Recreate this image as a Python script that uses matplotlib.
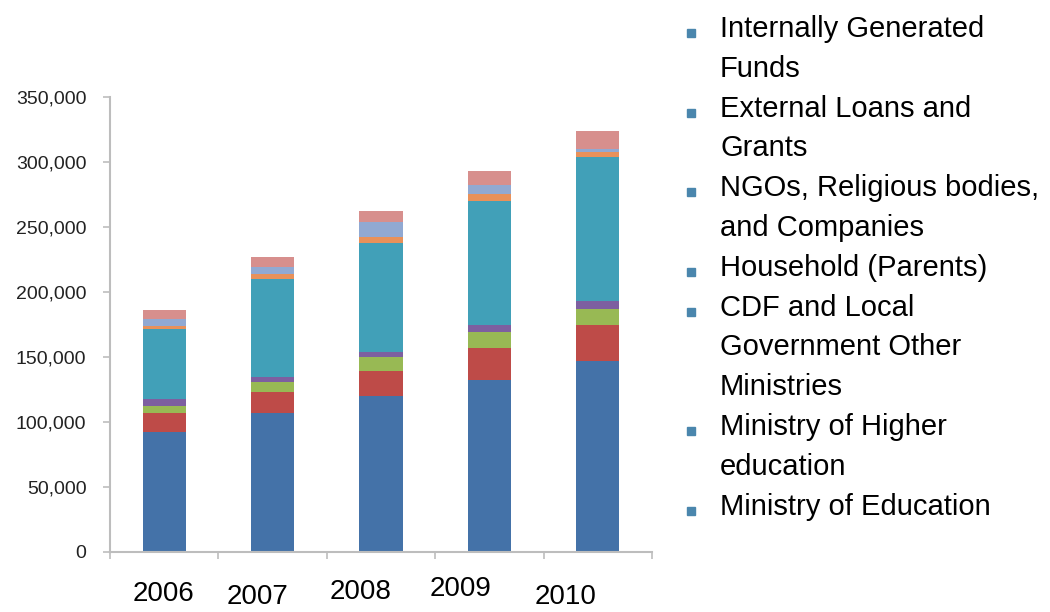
import matplotlib
matplotlib.use("Agg")
import matplotlib.pyplot as plt
import matplotlib.transforms as mtransforms
from matplotlib.patches import Rectangle
import numpy as np

plt.rcParams['font.family'] = ['Liberation Sans', 'DejaVu Sans']

# Daten
years = ['2006', '2007', '2008', '2009', '2010']

ministry_education = [92000, 107000, 120000, 132000, 147000]
ministry_higher = [15000, 16000, 19000, 25000, 28000]
cdf_local_gov = [5000, 8000, 11000, 12000, 12000]
household = [6000, 4000, 4000, 6000, 6000]
ngos = [53500, 75000, 84000, 95000, 111000]
external_loans = [2500, 4000, 4000, 5000, 4000]
internal_funds = [5000, 5000, 12000, 7000, 2000]
other = [7000, 8000, 8000, 11000, 14000]

yticks = [0, 50000, 100000, 150000, 200000, 250000, 300000, 350000]

legend_labels = [
    'Internally Generated\nFunds',
    'External Loans and\nGrants',
    'NGOs, Religious bodies,\nand Companies',
    'Household (Parents)',
    'CDF and Local\nGovernment Other\nMinistries',
    'Ministry of Higher\neducation',
    'Ministry of Education',
]

# Stapel von unten nach oben
series = [ministry_education, ministry_higher, cdf_local_gov, household,
          ngos, external_loans, internal_funds, other]
colors = ['#4472a8', '#be4b48', '#98b954', '#7d5fa0',
          '#41a0b8', '#e8915a', '#91a9d2', '#d78f8d']

fig = plt.figure(figsize=(10.5, 6.12), dpi=100)
ax = fig.add_axes([110 / 1050, 60 / 612, 542 / 1050, 455 / 612])

x = np.arange(len(years))
bottom = np.zeros(len(years))
for values, color in zip(series, colors):
    ax.bar(x, values, width=0.4, bottom=bottom, color=color, linewidth=0)
    bottom += np.array(values)

ax.set_xlim(-0.5, len(years) - 0.5)
ax.set_ylim(0, 350000)

# Achsen
for side in ['top', 'right']:
    ax.spines[side].set_visible(False)
for side in ['left', 'bottom']:
    ax.spines[side].set_color('#bdbdbd')
    ax.spines[side].set_linewidth(1.5)

ax.set_yticks(yticks)
ax.set_yticklabels([f'{v:,}' for v in yticks])
ax.tick_params(axis='y', length=5, width=1.2, color='#bdbdbd',
               labelsize=14, labelcolor='#222222', pad=12)

ax.set_xticks([])
ax.set_xticks(np.arange(len(years) + 1) - 0.5, minor=True)
ax.tick_params(axis='x', which='minor', length=5, width=1.2, color='#bdbdbd')

# Jahresbeschriftungen (leicht versetzt wie im Original)
label_x = [-0.01, 0.86, 1.81, 2.73, 3.70]
label_y = [594, 597, 592, 589, 597]
year_trans = mtransforms.blended_transform_factory(ax.transData, fig.transFigure)
for yr, lx, ly in zip(years, label_x, label_y):
    ax.text(lx, 1 - ly / 612, yr, transform=year_trans,
            ha='center', va='center', fontsize=20, color='black')

# Legende manuell
line_step = 39.8
baseline = 37
for label in legend_labels:
    lines = label.split('\n')
    fig.patches.append(Rectangle((687 / 1050, 1 - baseline / 612), 8 / 1050, 8 / 612,
                                 transform=fig.transFigure, color='#4a86ad',
                                 figure=fig))
    for k, line in enumerate(lines):
        fig.text(720 / 1050, 1 - (baseline + k * line_step) / 612, line,
                 ha='left', va='baseline', fontsize=21, color='black')
    baseline += len(lines) * line_step

fig.savefig('out.png', dpi=100)
